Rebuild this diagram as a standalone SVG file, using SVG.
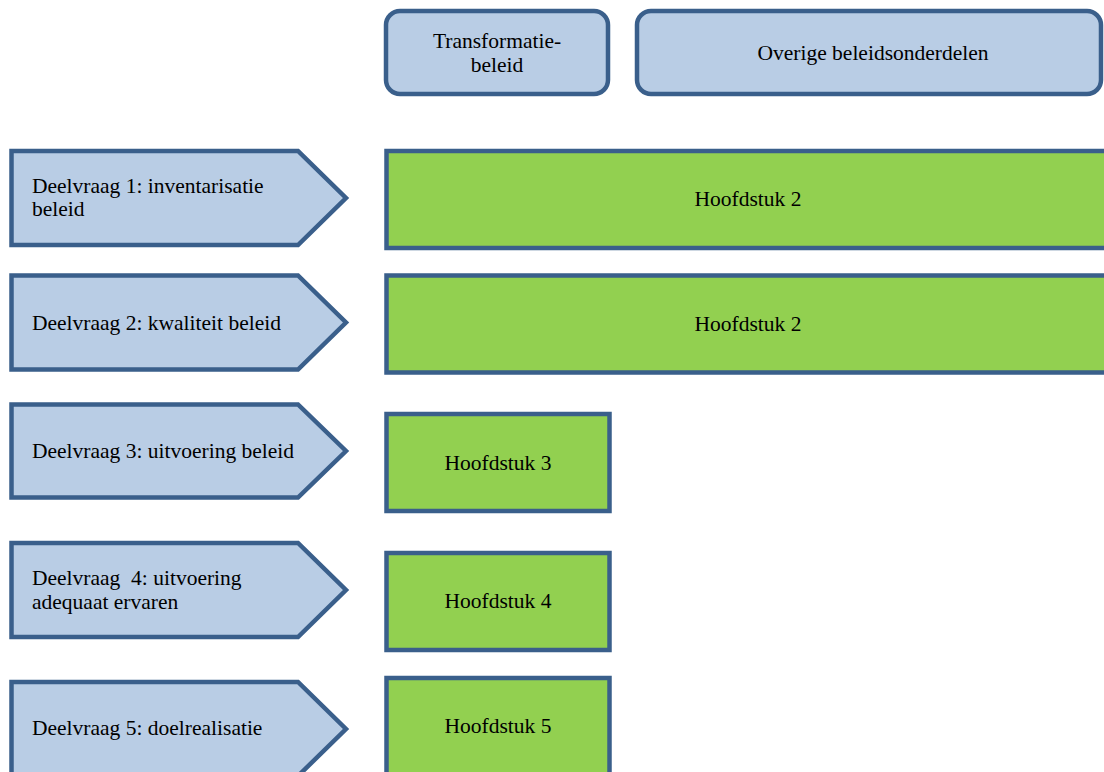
<svg xmlns="http://www.w3.org/2000/svg" width="1104" height="772" viewBox="0 0 1104 772">
<style>
.blue{fill:#B9CDE5;stroke:#3A5F8B;stroke-width:4.5;stroke-linejoin:miter}
.green{fill:#92D050;stroke:#3A5F8B;stroke-width:4.5}
text{font-family:"Liberation Serif","Times New Roman",serif;font-size:21.5px;fill:#000}
.c{text-anchor:middle}
</style>
<rect width="1104" height="772" fill="#fff"/>
<g id="transformatie">
<rect class="blue" x="386" y="11" width="222" height="83" rx="14"/>
<text class="c" x="497" y="48">Transformatie-</text>
<text class="c" x="497" y="72">beleid</text>
</g>
<g id="overige">
<rect class="blue" x="637" y="11" width="464" height="83" rx="14"/>
<text class="c" x="873" y="60">Overige beleidsonderdelen</text>
</g>
<g id="deelvraag1">
<polygon class="blue" points="11.5,151 298,151 346,198 298,245 11.5,245"/>
<text x="32" y="193">Deelvraag 1: inventarisatie</text>
<text x="32" y="216">beleid</text>
</g>
<g id="deelvraag2">
<polygon class="blue" points="11.5,275.5 298,275.5 346,322.5 298,369.5 11.5,369.5"/>
<text x="32" y="330">Deelvraag 2: kwaliteit beleid</text>
</g>
<g id="deelvraag3">
<polygon class="blue" points="11.5,404.5 298,404.5 346,451 298,497.5 11.5,497.5"/>
<text x="32" y="458">Deelvraag 3: uitvoering beleid</text>
</g>
<g id="deelvraag4">
<polygon class="blue" points="11.5,543 298,543 346,590 298,637 11.5,637"/>
<text x="32" y="585" xml:space="preserve">Deelvraag  4: uitvoering</text>
<text x="32" y="609">adequaat ervaren</text>
</g>
<g id="deelvraag5">
<polygon class="blue" points="11.5,682 298,682 346,729 298,776 11.5,776"/>
<text x="32" y="735">Deelvraag 5: doelrealisatie</text>
</g>
<g id="hoofdstuk2a">
<rect class="green" x="386.5" y="151" width="724" height="97"/>
<text class="c" x="748" y="206">Hoofdstuk 2</text>
</g>
<g id="hoofdstuk2b">
<rect class="green" x="386.5" y="275.5" width="724" height="97"/>
<text class="c" x="748" y="331">Hoofdstuk 2</text>
</g>
<g id="hoofdstuk3">
<rect class="green" x="386.5" y="414" width="223" height="97"/>
<text class="c" x="498" y="470">Hoofdstuk 3</text>
</g>
<g id="hoofdstuk4">
<rect class="green" x="386.5" y="553" width="223" height="97"/>
<text class="c" x="498" y="608">Hoofdstuk 4</text>
</g>
<g id="hoofdstuk5">
<rect class="green" x="386.5" y="678" width="223" height="100"/>
<text class="c" x="498" y="733">Hoofdstuk 5</text>
</g>
<g id="connectors"/>
</svg>
